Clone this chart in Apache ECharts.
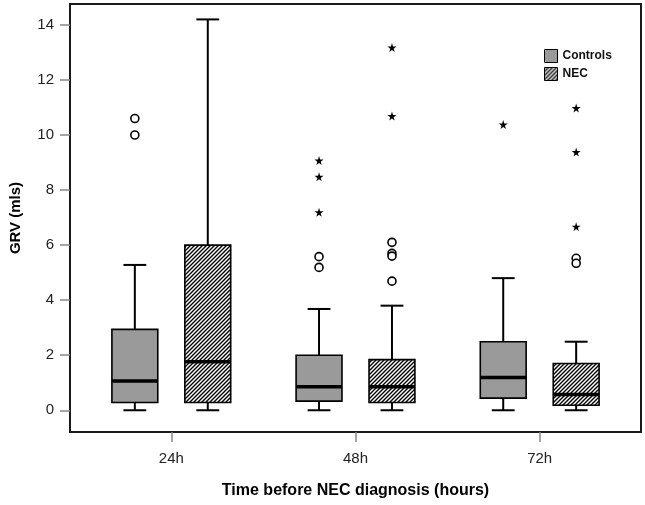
<!DOCTYPE html>
<html>
<head>
<meta charset="utf-8">
<script src="https://cdn.jsdelivr.net/npm/echarts@6/dist/echarts.min.js"></script>
<style>html,body{margin:0;padding:0;background:#fff;}#c{width:645px;height:505px;}</style>
</head>
<body>
<div id="c"></div>
<script>
// ---- data ----
const categories = ['24h', '48h', '72h'];
const yTicks = [0, 2, 4, 6, 8, 10, 12, 14];
// [min, Q1, median, Q3, max] per category
const controlsStats = [[0, 0.28, 1.06, 2.94, 5.28], [0, 0.33, 0.85, 2.00, 3.68], [0, 0.44, 1.19, 2.49, 4.80]];
const necStats      = [[0, 0.28, 1.76, 6.00, 14.2], [0, 0.28, 0.85, 1.84, 3.80], [0, 0.18, 0.57, 1.70, 2.49]];
// outliers: circles (mild) and stars (extreme)
const controlsCircles = [[10.6, 10.0], [5.58, 5.19], []];
const controlsStars   = [[], [9.07, 8.48, 7.19], [10.38]];
const necCircles      = [[], [6.1, 5.7, 5.6, 4.69], [5.52, 5.34]];
const necStars        = [[], [13.18, 10.69], [10.98, 9.38, 6.67]];

// ---- layout / style constants ----
const FONT = '"Liberation Sans", Arial, sans-serif';
const OFFSET = 0.198, BOX_HALF = 0.1245, CAP_HALF = 0.062;
const GRAY = '#9a9a9a';

function makeHatch() {
  const c = document.createElement('canvas');
  c.width = 4; c.height = 4;
  const g = c.getContext('2d');
  g.fillStyle = '#fff'; g.fillRect(0, 0, 4, 4);
  g.strokeStyle = '#000'; g.lineWidth = 1.4;
  g.beginPath();
  g.moveTo(-1, 5); g.lineTo(5, -1);
  g.moveTo(-1, 1); g.lineTo(1, -1);
  g.moveTo(3, 5); g.lineTo(5, 3);
  g.stroke();
  return { image: c, repeat: 'repeat' };
}
const HATCH = makeHatch();

function boxSeries(name, stats, offset, fill) {
  return {
    name: name, type: 'custom', z: 2,
    data: stats.map((s, i) => [i].concat(s)),
    encode: { x: 0, y: [1, 2, 3, 4, 5] },
    itemStyle: { color: fill },
    renderItem: function (params, api) {
      const cat = api.value(0);
      const mn = api.value(1), q1 = api.value(2), md = api.value(3), q3 = api.value(4), mx = api.value(5);
      const unit = api.size([1, 0])[0];
      const cx = api.coord([cat + offset, 0])[0];
      const y = v => api.coord([cat, v])[1];
      const hw = BOX_HALF * unit, cw = CAP_HALF * unit;
      const ls = { stroke: '#000', lineWidth: 2 };
      return {
        type: 'group',
        children: [
          { type: 'line', shape: { x1: cx, y1: y(q3), x2: cx, y2: y(mx) }, style: ls },
          { type: 'line', shape: { x1: cx, y1: y(q1), x2: cx, y2: y(mn) }, style: ls },
          { type: 'line', shape: { x1: cx - cw, y1: y(mx), x2: cx + cw, y2: y(mx) }, style: ls },
          { type: 'line', shape: { x1: cx - cw, y1: y(mn), x2: cx + cw, y2: y(mn) }, style: ls },
          { type: 'rect', shape: { x: cx - hw, y: y(q3), width: 2 * hw, height: y(q1) - y(q3) },
            style: { fill: fill, stroke: '#000', lineWidth: 1.6 } },
          { type: 'line', shape: { x1: cx - hw, y1: y(md), x2: cx + hw, y2: y(md) },
            style: { stroke: '#000', lineWidth: 3.5 } }
        ]
      };
    }
  };
}

function pts(list, offset) {
  const out = [];
  list.forEach((vals, i) => vals.forEach(v => out.push([i + offset, v])));
  return out;
}
const STAR = 'path://M50,0 L61,35 L98,35 L68,57 L79,91 L50,70 L21,91 L32,57 L2,35 L39,35 Z';
function circleSeries(name, list, offset) {
  return { name: name, type: 'scatter', z: 3, data: pts(list, offset), symbol: 'circle', symbolSize: 8,
    itemStyle: { color: '#fff', borderColor: '#000', borderWidth: 1.6, opacity: 1 } };
}
function starSeries(name, list, offset) {
  return { name: name, type: 'scatter', z: 3, data: pts(list, offset), symbol: STAR, symbolSize: 9,
    itemStyle: { color: '#000', opacity: 1 } };
}

const chart = echarts.init(document.getElementById('c'), null, { renderer: 'canvas' });
chart.setOption({
  animation: false,
  backgroundColor: '#fff',
  grid: { left: 68, right: 4, top: 4, bottom: 73, show: true, borderColor: '#1a1a1a', borderWidth: 2, backgroundColor: '#fff' },
  legend: {
    orient: 'vertical', left: 539, top: 44, itemWidth: 13, itemHeight: 13, itemGap: 4, icon: 'rect',
    textStyle: { fontFamily: FONT, fontSize: 12, fontWeight: 'bold', color: '#111' },
    data: [
      { name: 'Controls', itemStyle: { color: GRAY, borderColor: '#000', borderWidth: 1 } },
      { name: 'NEC', itemStyle: { color: HATCH, borderColor: '#000', borderWidth: 1 } }
    ]
  },
  xAxis: {
    type: 'value', min: -0.55, max: 2.55,
    name: 'Time before NEC diagnosis (hours)', nameLocation: 'middle', nameGap: 51,
    nameTextStyle: { fontFamily: FONT, fontSize: 16, fontWeight: 'bold', color: '#000' },
    axisLine: { show: false, onZero: false },
    splitLine: { show: false },
    axisTick: { show: true, customValues: [0, 1, 2], length: 10, lineStyle: { color: '#888', width: 1.5 } },
    axisLabel: { customValues: [0, 1, 2], formatter: v => categories[Math.round(v)], margin: 19,
      fontFamily: FONT, fontSize: 15, color: '#222' }
  },
  yAxis: {
    type: 'value', min: -0.79, max: 14.76,
    name: 'GRV (mls)', nameLocation: 'middle', nameGap: 47,
    nameTextStyle: { fontFamily: FONT, fontSize: 15, fontWeight: 'bold', color: '#000' },
    axisLine: { show: false, onZero: false },
    splitLine: { show: false },
    axisTick: { show: true, customValues: yTicks, length: 10, lineStyle: { color: '#888', width: 1.5 } },
    axisLabel: { customValues: yTicks, margin: 16, fontFamily: FONT, fontSize: 15, color: '#222' }
  },
  series: [
    boxSeries('Controls', controlsStats, -OFFSET, GRAY),
    boxSeries('NEC', necStats, OFFSET, HATCH),
    circleSeries('Controls mild outliers', controlsCircles, -OFFSET),
    starSeries('Controls extreme outliers', controlsStars, -OFFSET),
    circleSeries('NEC mild outliers', necCircles, OFFSET),
    starSeries('NEC extreme outliers', necStars, OFFSET)
  ]
});
</script>
</body>
</html>
